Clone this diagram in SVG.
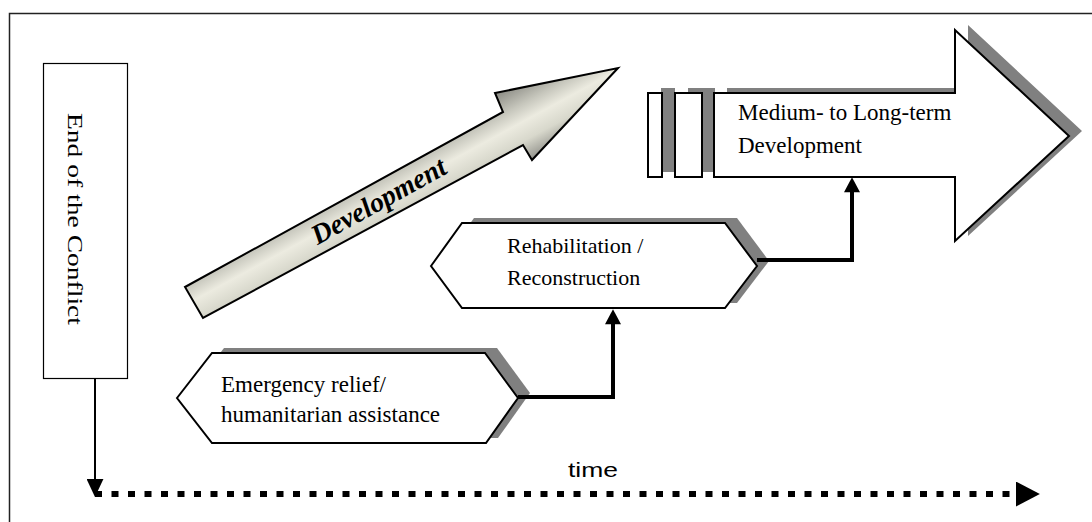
<svg xmlns="http://www.w3.org/2000/svg" width="1092" height="522" viewBox="0 0 1092 522">
  <defs>
    <style>
      .label { font-family: "Liberation Serif", "Times New Roman", serif; font-size: 22px; fill: #000; }
      .big { font-size: 23px; }
      .shape { fill: #fff; stroke: #000; stroke-width: 2; stroke-linejoin: miter; }
      .shadow { fill: #808080; stroke: none; }
      .link { fill: none; stroke: #000; stroke-width: 4; stroke-linejoin: miter; }
    </style>
    <linearGradient id="devFill" gradientUnits="userSpaceOnUse" x1="494" y1="92" x2="532" y2="162">
      <stop offset="0" stop-color="#86867f"/>
      <stop offset="0.3" stop-color="#c6c6bc"/>
      <stop offset="0.5" stop-color="#ecebe0"/>
      <stop offset="0.72" stop-color="#d8d8cc"/>
      <stop offset="1" stop-color="#8c8c86"/>
    </linearGradient>
    <marker id="headThick" markerUnits="userSpaceOnUse" markerWidth="16" markerHeight="16" viewBox="0 0 14 15" refX="2" refY="7.5" orient="auto">
      <path d="M0,0 L14,7.5 L0,15 Z" fill="#000"/>
    </marker>
    <marker id="headThin" markerUnits="userSpaceOnUse" markerWidth="18" markerHeight="17" viewBox="0 0 17 16" refX="2" refY="8" orient="auto">
      <path d="M0,0 L17,8 L0,16 Z" fill="#000"/>
    </marker>
    <marker id="headTime" markerUnits="userSpaceOnUse" markerWidth="24" markerHeight="25" viewBox="0 0 23 24" refX="2" refY="12" orient="auto">
      <path d="M0,0 L23,12 L0,24 Z" fill="#000"/>
    </marker>
  </defs>

  <rect x="0" y="0" width="1092" height="522" fill="#fff"/>
  <!-- frame -->
  <rect x="9.5" y="13.5" width="1090" height="520" fill="none" stroke="#222" stroke-width="1.5"/>

  <!-- end of the conflict -->
  <g id="end-of-conflict">
    <rect x="43.5" y="63.5" width="84" height="315" fill="#fff" stroke="#000" stroke-width="1.2"/>
    <text class="label" transform="translate(68,113) rotate(90)" textLength="212" lengthAdjust="spacingAndGlyphs" style="font-size:21px">End of the Conflict</text>
  </g>

  <!-- development trend arrow -->
  <g id="development">
    <path d="M185,287 L503,112 L495,93 L618,68 L532,160 L523,145 L203,318 Z" fill="url(#devFill)" stroke="#000" stroke-width="2" stroke-linejoin="miter"/>
    <text transform="translate(383,209) rotate(-29)" text-anchor="middle" font-family="'Liberation Serif', 'Times New Roman', serif" font-size="28" font-weight="bold" font-style="italic" textLength="150" lengthAdjust="spacingAndGlyphs">Development</text>
  </g>

  <!-- medium- to long-term development -->
  <g id="long-term">
    <rect class="shadow" x="661" y="88" width="14" height="84"/>
    <rect class="shadow" x="688" y="88" width="27" height="84"/>
    <path class="shadow" d="M727,88 L968,88 L968,25 L1082,131 L968,236 L968,172 L727,172 Z"/>
    <rect class="shape" x="648" y="93" width="14" height="84"/>
    <rect class="shape" x="675" y="93" width="27" height="84"/>
    <path class="shape" d="M714,93 L955,93 L955,30 L1069,136 L955,241 L955,177 L714,177 Z"/>
    <text class="label big" x="738" y="120">Medium- to Long-term</text>
    <text class="label big" x="738" y="153">Development</text>
  </g>

  <!-- rehabilitation / reconstruction -->
  <g id="rehabilitation">
    <path class="shadow" d="M443,261 L474,218 L737,218 L769,261 L737,303 L474,303 Z"/>
    <path class="shape" d="M431,266 L462,223 L725,223 L757,266 L725,308 L462,308 Z"/>
    <text class="label" x="507" y="253">Rehabilitation /</text>
    <text class="label" x="507" y="285">Reconstruction</text>
  </g>

  <!-- emergency relief -->
  <g id="emergency">
    <path class="shadow" d="M189,393 L224,348 L497,348 L530,393 L498,438 L224,438 Z"/>
    <path class="shape" d="M177,398 L212,353 L485,353 L518,398 L486,443 L212,443 Z"/>
    <text class="label big" x="221" y="392">Emergency relief/</text>
    <text class="label big" x="221" y="422">humanitarian assistance</text>
  </g>

  <!-- time axis label -->
  <text x="568" y="477" font-family="'Liberation Sans', Arial, sans-serif" font-size="21" textLength="50" lengthAdjust="spacingAndGlyphs">time</text>

  <!-- connectors -->
  <g id="connectors">
    <path class="link" d="M518,397 H613 V322" marker-end="url(#headThick)"/>
    <path class="link" d="M757,260 H852 V190" marker-end="url(#headThick)"/>
    <path d="M95,378 V481" fill="none" stroke="#000" stroke-width="2" marker-end="url(#headThin)"/>
    <path d="M95,494 H1018" fill="none" stroke="#000" stroke-width="6" stroke-dasharray="7 9.5" marker-end="url(#headTime)"/>
  </g>
</svg>
